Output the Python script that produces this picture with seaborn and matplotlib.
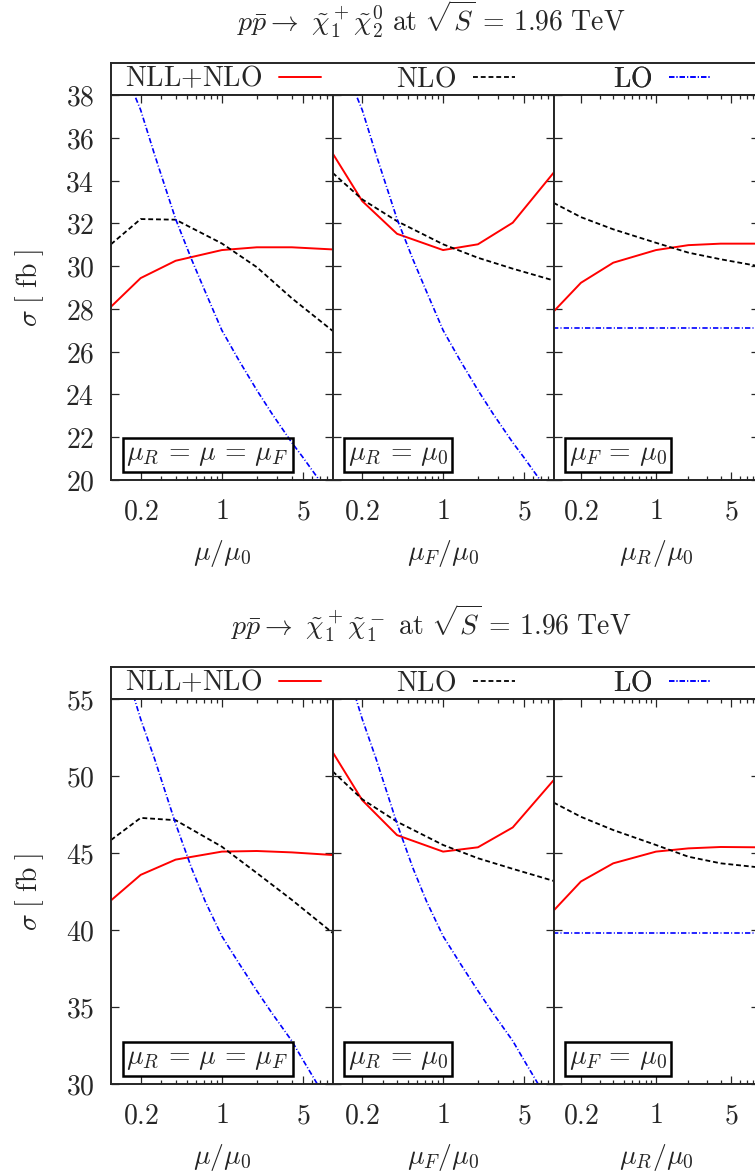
import numpy as np
import pandas as pd
import matplotlib
matplotlib.use('Agg')
import matplotlib.pyplot as plt
from matplotlib.ticker import FixedLocator, FixedFormatter, NullFormatter
from matplotlib.transforms import offset_copy
import seaborn as sns

# scale values mu/mu0 where the NLO and NLL+NLO cross sections are given
mu_pts = [0.111, 0.2, 0.4, 1.0, 2.0, 4.0, 9.0]

# chargino-neutralino (chi1+ chi2^0), sigma in fb
nll_mu_top = [28.10, 29.44, 30.25, 30.75, 30.88, 30.88, 30.78]
nlo_mu_top = [31.02, 32.20, 32.17, 31.06, 29.95, 28.50, 26.97]
nll_muF_top = [35.27, 33.04, 31.51, 30.75, 31.02, 32.03, 34.36]
nlo_muF_top = [34.36, 33.12, 32.10, 31.02, 30.39, 29.88, 29.33]
nll_muR_top = [27.87, 29.22, 30.16, 30.75, 30.98, 31.05, 31.05]
nlo_muR_top = [32.96, 32.29, 31.72, 31.09, 30.63, 30.32, 30.00]

# chargino pair (chi1+ chi1-), sigma in fb
nll_mu_bot = [41.92, 43.58, 44.57, 45.09, 45.13, 45.04, 44.87]
nlo_mu_bot = [45.84, 47.28, 47.13, 45.41, 43.70, 41.96, 39.81]
nll_muF_bot = [51.55, 48.43, 46.16, 45.09, 45.37, 46.66, 49.72]
nlo_muF_bot = [50.30, 48.49, 47.03, 45.52, 44.66, 43.97, 43.19]
nll_muR_bot = [41.25, 43.15, 44.33, 45.09, 45.30, 45.39, 45.37]
nlo_muR_bot = [48.28, 47.35, 46.49, 45.52, 44.76, 44.33, 44.07]

# LO only depends on muF
lo_x = [0.15, 0.177, 0.2, 0.264, 0.4, 0.55, 0.72, 1.0, 1.4, 2.0, 2.7, 4.0, 5.0, 6.0, 7.0, 9.0]
lo_top = [39.3, 38.0, 37.3, 35.2, 32.2, 30.3, 28.8, 27.0, 25.6, 24.2, 23.1, 21.75, 21.05, 20.45, 19.95, 19.3]
lo_bot = [56.5, 55.0, 53.7, 51.1, 46.9, 44.0, 41.85, 39.6, 37.85, 36.05, 34.6, 32.8, 31.55, 30.55, 29.7, 28.6]
lo_fixed_top = 27.1
lo_fixed_bot = 39.8

titles = [r'$p\bar{p} \rightarrow\ \tilde{\chi}_1^+\tilde{\chi}_2^0\ \mathrm{at}\ \sqrt{S}\,=\,1.96\ \mathrm{TeV}$',
          r'$p\bar{p} \rightarrow\ \tilde{\chi}_1^+\tilde{\chi}_1^-\ \mathrm{at}\ \sqrt{S}\,=\,1.96\ \mathrm{TeV}$']
xlabels = [r'$\mu/\mu_0$', r'$\mu_F/\mu_0$', r'$\mu_R/\mu_0$']
boxlabels = [r'$\mu_R\,=\,\mu\,=\,\mu_F$', r'$\mu_R\,=\,\mu_0$', r'$\mu_F\,=\,\mu_0$']
leg_labels = [r'$\mathrm{NLL{+}NLO}$', r'$\mathrm{NLO}$', r'$\mathrm{LO}$']
xtick_vals = [0.2, 1, 5]
xtick_labels = [r'$0.2$', r'$1$', r'$5$']
xminor_vals = [0.3, 0.4, 0.5, 0.6, 0.7, 0.8, 0.9, 2, 3, 4, 6, 7, 8, 9]

sns.set_style('ticks')
plt.rcParams['mathtext.fontset'] = 'cm'
plt.rcParams['font.family'] = ['DejaVu Serif']
plt.rcParams['font.size'] = 20

W, H = 755, 1176
fig = plt.figure(figsize=(W / 100, H / 100), dpi=100)

red = '#ff0000'
blue = '#0000ff'
dash_style = (0, (2.7, 1.6))
dashdot_style = (0, (3.2, 1.3, 0.6, 1.3))
panel_x = [(111, 332.7), (332.7, 553.5), (553.5, 758.5)]


def frac(x0, y0, x1, y1):
    return [x0 / W, 1 - y1 / H, (x1 - x0) / W, (y1 - y0) / H]


def draw_row(top, title, ylim, yticks, curves, lo_curve, lo_fixed):
    bottom = top + 385
    strip = fig.add_axes(frac(111, top - 32, 760, top))
    strip.set_xticks([])
    strip.set_yticks([])
    for s in strip.spines.values():
        s.set_linewidth(1.4)
    axes = []
    for i, (x0, x1) in enumerate(panel_x):
        ax = fig.add_axes(frac(x0, top, x1, bottom))
        nll, nlo = curves[i]
        sns.lineplot(x=mu_pts, y=nll, ax=ax, color=red, lw=1.4, sort=False, estimator=None)
        sns.lineplot(x=mu_pts, y=nlo, ax=ax, color='black', lw=1.3, linestyle=dash_style,
                     sort=False, estimator=None)
        if i < 2:
            sns.lineplot(x=lo_x, y=lo_curve, ax=ax, color=blue, lw=1.2, linestyle=dashdot_style,
                         sort=False, estimator=None)
        else:
            sns.lineplot(x=[mu_pts[0], mu_pts[-1]], y=[lo_fixed, lo_fixed], ax=ax, color=blue,
                         lw=1.2, linestyle=dashdot_style, sort=False, estimator=None)
        ax.set_xscale('log')
        ax.set_xlim(1 / 9, 9)
        ax.set_ylim(*ylim)
        ax.xaxis.set_major_locator(FixedLocator(xtick_vals))
        ax.xaxis.set_major_formatter(FixedFormatter(xtick_labels))
        ax.xaxis.set_minor_locator(FixedLocator(xminor_vals))
        ax.xaxis.set_minor_formatter(NullFormatter())
        ax.set_yticks(yticks)
        if i == 0:
            ax.set_yticklabels([r'$%d$' % v for v in yticks])
            ax.set_ylabel(r'$\sigma\ [\ \mathrm{fb}\ ]$', labelpad=14)
        else:
            ax.set_yticklabels([])
            ax.set_ylabel('')
        ax.tick_params(which='both', direction='in', top=True, right=True, width=0.9)
        ax.tick_params(which='major', length=5.5)
        ax.tick_params(which='minor', length=3)
        ax.tick_params(axis='x', which='major', pad=13)
        ax.tick_params(axis='y', which='major', pad=12)
        ax.set_xlabel(xlabels[i], labelpad=9)
        for s in ax.spines.values():
            s.set_linewidth(1.4)
        trans = offset_copy(ax.transAxes, fig=fig, x=15.5, y=11.5, units='dots')
        ax.text(0, 0, boxlabels[i], transform=trans, ha='left', va='bottom',
                bbox=dict(boxstyle='square,pad=0.14', fc='none', ec='black', lw=1.8))
        axes.append(ax)

    handles = axes[0].get_lines()[:3]
    for h, lab, xend in zip(handles, leg_labels, [321, 515, 711]):
        leg = strip.legend([h], [lab], loc='center right', bbox_to_anchor=(xend / W, 1 - (top - 16) / H),
                           bbox_transform=fig.transFigure, markerfirst=False, frameon=False,
                           handlelength=1.5, handletextpad=0.6, borderpad=0, borderaxespad=0)
        strip.add_artist(leg)

    fig.text(431 / W, 1 - (top - 64) / H, title, ha='center', va='baseline')


draw_row(95, titles[0], (20, 38), list(range(20, 39, 2)),
         [(nll_mu_top, nlo_mu_top), (nll_muF_top, nlo_muF_top), (nll_muR_top, nlo_muR_top)],
         lo_top, lo_fixed_top)
draw_row(699, titles[1], (30, 55), list(range(30, 56, 5)),
         [(nll_mu_bot, nlo_mu_bot), (nll_muF_bot, nlo_muF_bot), (nll_muR_bot, nlo_muR_bot)],
         lo_bot, lo_fixed_bot)

fig.savefig('out.png', dpi=100)
